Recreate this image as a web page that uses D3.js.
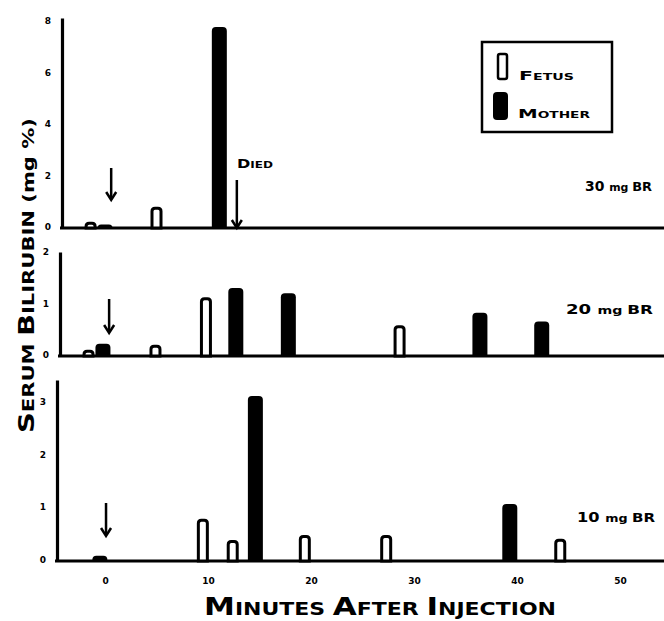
<!DOCTYPE html>
<html><head><meta charset="utf-8">
<script src="https://cdn.jsdelivr.net/npm/d3@7"></script>
<style>body{margin:0;background:#fff}svg{display:block}</style>
</head><body><svg id="c" width="664" height="621"></svg>
<script>
// ---------- data ----------
const xTicks = [0, 10, 20, 30, 40, 50];
const doseLabels = ["30 mg BR", "20 mg BR", "10 mg BR"];
const legendLabels = ["Fetus", "Mother"];

const fetus30Time = [-1.4, 5.0];
const fetus30Value = [0.2, 0.78];
const mother30Time = [0.0, 11.1];
const mother30Value = [0.1, 7.75];
const yTicks30 = [0, 2, 4, 6, 8];

const fetus20Time = [-1.6, 4.9, 9.8, 28.6];
const fetus20Value = [0.1, 0.2, 1.12, 0.58];
const mother20Time = [-0.2, 12.7, 17.8, 36.4, 42.4];
const mother20Value = [0.22, 1.3, 1.2, 0.82, 0.65];
const yTicks20 = [0, 1, 2];

const fetus10Time = [9.5, 12.4, 19.4, 27.3, 44.2];
const fetus10Value = [0.78, 0.38, 0.47, 0.47, 0.4];
const mother10Time = [-0.5, 14.6, 39.3];
const mother10Value = [0.08, 3.1, 1.06];
const yTicks10 = [0, 1, 2, 3];

const injectionTime = [0.6, 0.4, 0.1];
const diedTime = 12.8;

// ---------- layout ----------
const svg = d3.select("#c");
const W = 664;
const FONT = "DejaVu Sans, Verdana, sans-serif";
const x = d3.scaleLinear().domain([0, 50]).range([105, 620]);

const panels = [
  {fT: fetus30Time, fV: fetus30Value, mT: mother30Time, mV: mother30Value, ticks: yTicks30,
   yMax: 8.1, base: 227, top: 18, axisX: 62, label: doseLabels[0], lx: 585, ly: 191, lw: 67, arrowLen: 32, arrowGap: 27},
  {fT: fetus20Time, fV: fetus20Value, mT: mother20Time, mV: mother20Value, ticks: yTicks20,
   yMax: 2.0, base: 355, top: 252, axisX: 60, label: doseLabels[1], lx: 566, ly: 314, lw: 87, arrowLen: 34, arrowGap: 22},
  {fT: fetus10Time, fV: fetus10Value, mT: mother10Time, mV: mother10Value, ticks: yTicks10,
   yMax: 3.4, base: 560, top: 380, axisX: 57, label: doseLabels[2], lx: 577, ly: 522, lw: 78, arrowLen: 33, arrowGap: 24}
];

function barPath(cx, w, yTop, yBase, r) {
  const h = yBase - yTop;
  r = Math.max(0, Math.min(r, w / 2, h));
  const l = cx - w / 2, rr = cx + w / 2;
  return `M${l},${yBase}V${yTop + r}Q${l},${yTop} ${l + r},${yTop}H${rr - r}Q${rr},${yTop} ${rr},${yTop + r}V${yBase}Z`;
}

function smallCaps(sel, words, big, small) {
  words.forEach((wd, i) => {
    if (i > 0) sel.append("tspan").attr("font-size", small).text(" ");
    sel.append("tspan").attr("font-size", big).text(wd[0].toUpperCase());
    sel.append("tspan").attr("font-size", small).text(wd.slice(1).toUpperCase());
  });
}

function arrow(g, cx, y1, y2, sw) {
  g.append("line").attr("x1", cx).attr("x2", cx).attr("y1", y1).attr("y2", y2 - 1)
    .attr("stroke", "#000").attr("stroke-width", sw);
  g.append("path").attr("d", `M${cx - 5},${y2 - 8}L${cx},${y2}L${cx + 5},${y2 - 8}`)
    .attr("fill", "none").attr("stroke", "#000").attr("stroke-width", sw).attr("stroke-linejoin", "miter");
}

panels.forEach((p, i) => {
  const y = d3.scaleLinear().domain([0, p.yMax]).range([p.base, p.top]);
  const g = svg.append("g");

  g.append("line").attr("x1", p.axisX - 2).attr("x2", W).attr("y1", p.base + 1).attr("y2", p.base + 1)
    .attr("stroke", "#000").attr("stroke-width", 3);

  const ax = g.append("g").attr("transform", `translate(${p.axisX},0)`)
    .call(d3.axisLeft(y).tickValues(p.ticks).tickSize(0).tickPadding(11).tickFormat(d3.format("d")));
  ax.select(".domain").attr("stroke", "#000").attr("stroke-width", 3.2);
  ax.selectAll("text").attr("font-family", FONT).attr("font-weight", "bold").attr("font-size", 9).attr("fill", "#000");

  const mData = p.mT.map((t, k) => ({t, v: p.mV[k]}));
  g.selectAll(".m").data(mData).join("path").attr("class", "m")
    .attr("d", d => barPath(x(d.t), 15, y(d.v), p.base + 1, 4))
    .attr("fill", "#000");

  const fData = p.fT.map((t, k) => ({t, v: p.fV[k]}));
  g.selectAll(".f").data(fData).join("path").attr("class", "f")
    .attr("d", d => barPath(x(d.t), 9, y(d.v) + 1.5, p.base + 1, 3))
    .attr("fill", "#fff").attr("stroke", "#000").attr("stroke-width", 3);

  const ay2 = p.base - p.arrowGap;
  arrow(g, x(injectionTime[i]), ay2 - p.arrowLen, ay2, 2.5);

  const lt = g.append("text").attr("x", p.lx).attr("y", p.ly).attr("font-family", FONT)
    .attr("font-weight", "bold").attr("textLength", p.lw).attr("lengthAdjust", "spacingAndGlyphs");
  const parts = p.label.split(" ");
  lt.append("tspan").attr("font-size", 14).text(parts[0] + " ");
  lt.append("tspan").attr("font-size", 11).text(parts[1] + " ");
  lt.append("tspan").attr("font-size", 13).text(parts[2]);

  if (i === 0) {
    arrow(g, x(diedTime), 180, p.base + 1, 2.5);
    const dt = g.append("text").attr("x", 237).attr("y", 168).attr("font-family", FONT)
      .attr("font-weight", "bold").attr("textLength", 36).attr("lengthAdjust", "spacingAndGlyphs");
    smallCaps(dt, ["Died"], 12, 9);
  }
});

const xa = svg.append("g").attr("transform", "translate(0,574)")
  .call(d3.axisBottom(x).tickValues(xTicks).tickSize(0).tickPadding(4).tickFormat(d3.format("d")));
xa.select(".domain").remove();
xa.selectAll("text").attr("font-family", FONT).attr("font-weight", "bold").attr("font-size", 9).attr("fill", "#000");

const xt = svg.append("text").attr("x", 204).attr("y", 615).attr("font-family", FONT)
  .attr("font-weight", "bold").attr("textLength", 352).attr("lengthAdjust", "spacingAndGlyphs");
smallCaps(xt, ["Minutes", "After", "Injection"], 24, 17);

const yt = svg.append("text").attr("transform", "translate(34,433) rotate(-90)").attr("x", 0).attr("y", 0)
  .attr("font-family", FONT).attr("font-weight", "bold").attr("textLength", 315).attr("lengthAdjust", "spacingAndGlyphs");
yt.append("tspan").attr("font-size", 22).text("S");
yt.append("tspan").attr("font-size", 16).text("ERUM ");
yt.append("tspan").attr("font-size", 22).text("B");
yt.append("tspan").attr("font-size", 16).text("ILIRUBIN (mg %)");

const lg = svg.append("g");
lg.append("rect").attr("x", 482).attr("y", 42).attr("width", 130).attr("height", 90)
  .attr("fill", "none").attr("stroke", "#000").attr("stroke-width", 2.5);
lg.append("rect").attr("x", 498).attr("y", 54).attr("width", 9).attr("height", 25).attr("rx", 2)
  .attr("fill", "#fff").attr("stroke", "#000").attr("stroke-width", 2.5);
lg.append("rect").attr("x", 493).attr("y", 92).attr("width", 15).attr("height", 28).attr("rx", 4)
  .attr("fill", "#000");
const l1 = lg.append("text").attr("x", 519).attr("y", 80).attr("font-family", FONT).attr("font-weight", "bold")
  .attr("textLength", 55).attr("lengthAdjust", "spacingAndGlyphs");
smallCaps(l1, [legendLabels[0]], 13, 9);
const l2 = lg.append("text").attr("x", 518).attr("y", 118).attr("font-family", FONT).attr("font-weight", "bold")
  .attr("textLength", 72).attr("lengthAdjust", "spacingAndGlyphs");
smallCaps(l2, [legendLabels[1]], 13, 9);
</script></body></html>
